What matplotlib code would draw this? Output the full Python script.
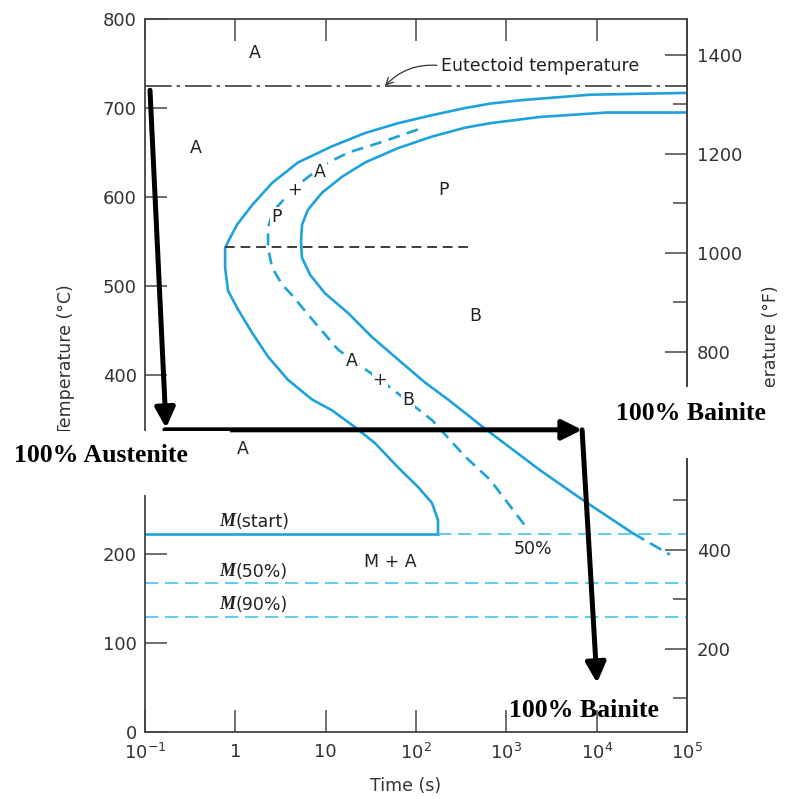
import matplotlib
matplotlib.use('Agg')
import matplotlib.pyplot as plt
from matplotlib.patches import Rectangle
from matplotlib.ticker import FixedLocator, FixedFormatter, NullLocator

# --- data (time in s, temperature in degC) ---
# start of transformation (outer solid C-curve)
start_t = [1e5, 8500, 1510, 660, 349, 150, 63, 27.3, 11.7, 4.94, 2.55, 1.53,
           1.04, 0.83, 0.77, 0.77, 0.83, 1.07, 1.53, 2.30, 3.83, 7.06, 11.7,
           21.1, 35.2, 63, 105, 150, 175, 175]
start_T = [717, 715, 709, 705, 700, 692, 683, 672, 657, 639, 616, 591,
           569, 550, 543, 521, 495, 474, 448, 421, 395, 373, 361,
           342, 324, 297, 275, 257, 238, 222]

# 50% transformation (dashed)
mid_t = [105, 42, 17.7, 9.84, 5.9, 3.55, 2.61, 2.30, 2.30, 2.55, 3.29, 4.24,
         7.62, 13.7, 45.4, 150, 349, 660, 1740]
mid_T = [676, 662, 650, 637, 620, 599, 584, 566, 543, 521, 502, 490,
         459, 429, 391, 350, 309, 283, 227]

# end of transformation (inner solid curve) and its dashed tail
end_t = [1e5, 12900, 2340, 660, 349, 150, 63, 27.3, 15.2, 9.1, 6.37, 5.47,
         5.33, 5.47, 6.71, 9.84, 17.7, 32.6, 63, 126, 226, 349, 550, 2340,
         7080, 25100]
end_T = [695, 695, 690, 683, 678, 668, 655, 639, 623, 605, 586, 569,
         550, 532, 513, 492, 470, 443, 418, 392, 373, 358, 342, 294,
         260, 223]
tail_t = [25100, 64600]
tail_T = [223, 199]

eutectoid_T = 725
nose_T = 544
nose_t = [0.77, 377]
ms_T, m50_T, m90_T = 222, 167, 129
ms_end_t = 175

# region labels
label_text = ['A', 'A', 'A', '+', 'P', 'P', 'B', 'A', '+', 'B', 'A', 'M + A', '50%']
label_t = [1.65, 0.367, 8.65, 4.47, 2.82, 200, 450, 19.5, 39.8, 81, 1.22, 51.5, 1970]
label_T = [762, 655, 628, 608, 578, 608, 467, 416, 395, 373, 318, 191, 205]

# overlaid cooling path: (t, T) points
path1 = [(0.1135, 720), (0.171, 341)]
path2 = [(0.166, 339), (6890, 339)]
path3 = [(6890, 339), (10090, 55)]

xticks = [0.1, 1, 10, 100, 1e3, 1e4, 1e5]
xtick_labels = ['$10^{-1}$', '1', '10', '$10^{2}$', '$10^{3}$', '$10^{4}$', '$10^{5}$']

blue = '#1ea2da'
light_blue = '#47c2ea'
gray = '#3c3c3c'

plt.rcParams['font.family'] = ['DejaVu Sans']
plt.rcParams['font.size'] = 12.5

fig = plt.figure(figsize=(7.96, 7.99), dpi=100)
ax = fig.add_axes([0.1822, 0.0839, 0.6809, 0.8924])

ax.plot(start_t, start_T, color=blue, lw=1.9)
ax.plot(end_t, end_T, color=blue, lw=1.9)
ax.plot(tail_t, tail_T, color=blue, lw=1.9, ls=(0, (5, 2.5)))
ax.plot(mid_t, mid_T, color=blue, lw=1.9, ls=(0, (4.5, 2.8)))

ax.plot([0.1, ms_end_t], [ms_T, ms_T], color=blue, lw=1.9)
ax.plot([ms_end_t, 1e5], [ms_T, ms_T], color=light_blue, lw=1.2, ls=(0, (8, 4)))
ax.plot([0.1, 1e5], [m50_T, m50_T], color=light_blue, lw=1.2, ls=(0, (8, 4)))
ax.plot([0.1, 1e5], [m90_T, m90_T], color=light_blue, lw=1.2, ls=(0, (8, 4)))

ax.plot(nose_t, [nose_T, nose_T], color=gray, lw=1.4, ls=(0, (5, 3)))
ax.plot([0.1, 1e5], [eutectoid_T, eutectoid_T], color=gray, lw=1.2,
        ls=(0, (16, 3, 2, 3)))

ax.annotate('Eutectoid temperature', xy=(45.4, eutectoid_T), xytext=(189, 747.5),
            ha='left', va='center', fontsize=12.5, color='#222',
            arrowprops=dict(arrowstyle='->', color='#333', lw=0.9, relpos=(0, 0.5),
                            connectionstyle='arc3,rad=0.25', shrinkA=1, shrinkB=0))

for s, t, T in zip(label_text, label_t, label_T):
    ax.text(t, T, s, ha='center', va='center', fontsize=12.5, color='#222',
            bbox=dict(facecolor='white', edgecolor='none', pad=0.6))

for T, s in [(236, '(start)'), (180, '(50%)'), (143, '(90%)')]:
    ax.text(1.0, T, 'M', ha='right', va='center', fontsize=13, color='#222',
            family='Liberation Serif', weight='bold', style='italic')
    ax.text(1.0, T, s, ha='left', va='center', fontsize=12.5, color='#222')

# black cooling path arrows
for p in (path1, path2, path3):
    ax.annotate('', xy=p[1], xytext=p[0],
                arrowprops=dict(arrowstyle='-|>,head_length=0.6,head_width=0.3',
                                color='black', lw=3.6, mutation_scale=20,
                                shrinkA=0, shrinkB=0))

ax.set_xscale('log')
ax.set_xlim(0.1, 1e5)
ax.set_ylim(0, 800)
ax.xaxis.set_major_locator(FixedLocator(xticks))
ax.xaxis.set_major_formatter(FixedFormatter(xtick_labels))
ax.xaxis.set_minor_locator(NullLocator())
ax.set_yticks(range(0, 801, 100))
ax.tick_params(which='major', direction='in', length=16, width=1.2, color='#555',
               labelcolor='#333', labelsize=13, top=True, pad=6)
ax.tick_params(axis='x', pad=8)
for sp in ax.spines.values():
    sp.set_color('#444')
    sp.set_linewidth(1.3)

ax.set_xlabel('Time (s)', fontsize=12.5, color='#333')
ax.xaxis.set_label_coords(0.48, -0.063)
ax.set_ylabel('Temperature (°C)', fontsize=12.5, color='#333')
ax.yaxis.set_label_coords(-0.129, 0.522)

sec = ax.secondary_yaxis('right', functions=(lambda c: c * 1.8 + 32,
                                             lambda f: (f - 32) / 1.8))
sec.set_yticks([200, 400, 600, 800, 1000, 1200, 1400])
sec.yaxis.set_minor_locator(FixedLocator([100, 300, 500, 700, 900, 1100, 1300]))
sec.tick_params(which='major', direction='in', length=16, width=1.2, color='#555',
                labelcolor='#333', labelsize=13, pad=7)
sec.tick_params(which='minor', direction='in', length=10, width=1.2, color='#555')
sec.spines['right'].set_color('#444')
sec.spines['right'].set_linewidth(1.3)
sec.set_ylabel('Temperature (°F)', fontsize=12.5, color='#333')
sec.yaxis.set_label_coords(1.138, 0.522, transform=ax.transAxes)

# white boxes behind the overlay captions
fig.add_artist(Rectangle((0, 0.3805), 0.289, 0.0801, transform=fig.transFigure,
                         facecolor='white', edgecolor='none', zorder=5))
fig.add_artist(Rectangle((0.760, 0.4268), 0.240, 0.0888, transform=fig.transFigure,
                         facecolor='white', edgecolor='none', zorder=5))

bold = dict(family='Liberation Serif', weight='bold', fontsize=18.5,
            ha='center', va='center', zorder=6)
fig.text(0.127, 0.4305, '100% Austenite', **bold)
fig.text(0.868, 0.483, '100% Bainite', **bold)
fig.text(0.733, 0.111, '100% Bainite', **bold)

fig.savefig('out.png', dpi=100)
